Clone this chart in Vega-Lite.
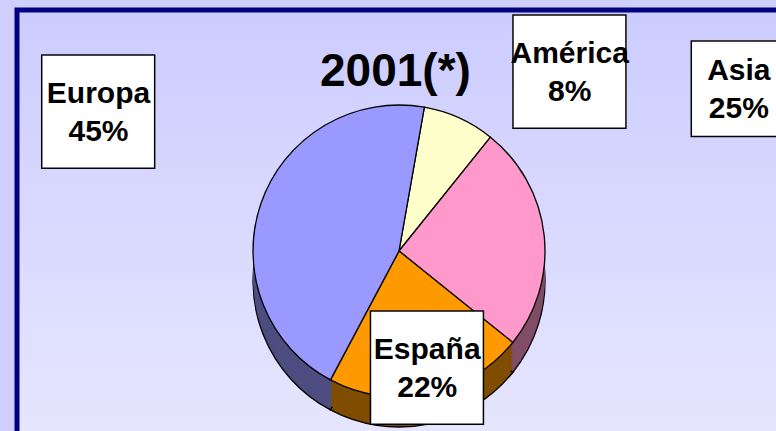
{
  "$schema": "https://vega.github.io/schema/vega-lite/v6.json",
  "width": 764,
  "height": 426,
  "autosize": {"type": "none"},
  "padding": {"left": 17, "top": 10, "right": -5, "bottom": -5},
  "background": "#D0D0FF",
  "view": {
    "fill": {"gradient": "linear", "x1": 0, "y1": 0, "x2": 0, "y2": 1, "stops": [{"offset": 0, "color": "#CCCCFF"}, {"offset": 1, "color": "#E6E6FF"}]},
    "stroke": "#000080",
    "strokeWidth": 5
  },
  "title": {
    "text": "2001(*)",
    "font": "Liberation Sans",
    "fontSize": 46,
    "fontWeight": "bold",
    "color": "black",
    "anchor": "start",
    "frame": "group",
    "dx": 303,
    "baseline": "alphabetic",
    "offset": -140
  },
  "data": {
    "values": [
      {"region": "América", "pct": 8},
      {"region": "Asia", "pct": 25},
      {"region": "España", "pct": 22},
      {"region": "Europa", "pct": 45}
    ]
  },
  "transform": [
    {"calculate": "datum.region + '\\n' + datum.pct + '%'", "as": "label"}
  ],
  "encoding": {
    "theta": {"field": "pct", "type": "quantitative", "stack": true, "scale": {"range": [0.1745, 6.4577]}},
    "order": {"field": "region", "sort": "ascending"}
  },
  "layer": [
    {
      "encoding": {
        "fill": {
          "field": "region",
          "type": "nominal",
          "legend": null,
          "scale": {"domain": ["América", "Asia", "España", "Europa"], "range": ["#80806A", "#804D66", "#804D00", "#4D4D80"]}
        }
      },
      "layer": [
        {"mark": {"type": "arc", "outerRadius": 146, "yOffset": 58, "stroke": "black", "strokeWidth": 1.3}},
        {"mark": {"type": "arc", "outerRadius": 146, "yOffset": 54}},
        {"mark": {"type": "arc", "outerRadius": 146, "yOffset": 50}},
        {"mark": {"type": "arc", "outerRadius": 146, "yOffset": 46}},
        {"mark": {"type": "arc", "outerRadius": 146, "yOffset": 42}},
        {"mark": {"type": "arc", "outerRadius": 146, "yOffset": 38}},
        {"mark": {"type": "arc", "outerRadius": 146, "yOffset": 34}},
        {"mark": {"type": "arc", "outerRadius": 146, "yOffset": 30}}
      ]
    },
    {
      "mark": {"type": "arc", "outerRadius": 146, "yOffset": 28, "stroke": "black", "strokeWidth": 1.3},
      "encoding": {
        "color": {
          "field": "region",
          "type": "nominal",
          "legend": null,
          "scale": {"domain": ["América", "Asia", "España", "Europa"], "range": ["#FFFFCC", "#FF99CC", "#FF9900", "#9999FF"]}
        }
      }
    },
    {
      "mark": {
        "type": "text",
        "font": "DejaVu Sans",
        "fill": "white",
        "stroke": "black",
        "strokeWidth": 1.5,
        "align": "center",
        "baseline": "middle",
        "dy": -7,
        "radius": {"expr": "datum.region === 'Europa' ? 320 : datum.region === 'América' ? 227 : datum.region === 'Asia' ? 365 : 149"},
        "thetaOffset": {"expr": "datum.region === 'América' ? 0.425 : datum.region === 'Asia' ? -0.265 : datum.region === 'Europa' ? 0.019 : 0.012"}
      },
      "encoding": {
        "text": {"value": "■"},
        "size": {"condition": {"test": "datum.region === 'Asia'", "value": 125}, "value": 148}
      }
    },
    {
      "mark": {
        "type": "text",
        "font": "Liberation Sans",
        "fontSize": 30,
        "fontWeight": "bold",
        "fill": "black",
        "lineBreak": "\n",
        "lineHeight": 38,
        "align": "center",
        "baseline": "middle",
        "dy": -19,
        "radius": {"expr": "datum.region === 'Europa' ? 320 : datum.region === 'América' ? 227 : datum.region === 'Asia' ? 365 : 149"},
        "thetaOffset": {"expr": "datum.region === 'América' ? 0.425 : datum.region === 'Asia' ? -0.265 : datum.region === 'Europa' ? 0.019 : 0.012"}
      },
      "encoding": {"text": {"field": "label"}}
    }
  ]
}
